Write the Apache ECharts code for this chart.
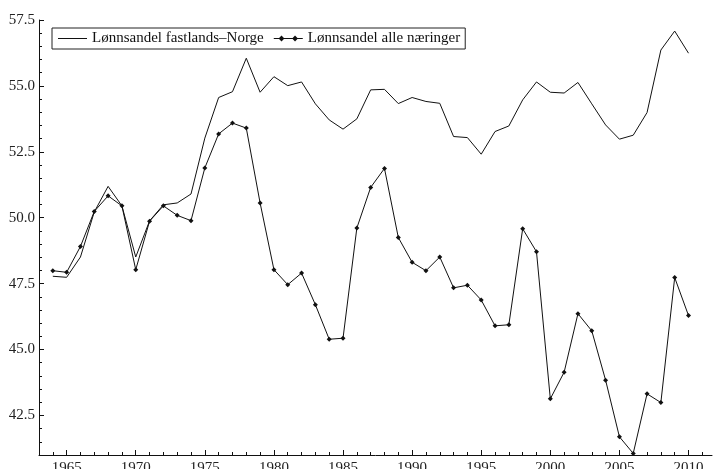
<!DOCTYPE html>
<html lang="no">
<head>
    <meta charset="UTF-8">
    <title>Lønnsandel</title>
    <script src="https://cdn.jsdelivr.net/npm/echarts@6/dist/echarts.min.js"></script>
    <style>
        html, body { margin: 0; padding: 0; background: #fff; }
        #chart { width: 713px; height: 469px; }
    </style>
</head>
<body>
    <div id="chart"></div>

    <script>
        var years = [];
        for (var y = 1964; y <= 2010; y++) years.push(y);

        var fastlandNames = 'Lønnsandel fastlands\u2013Norge';
        var alleNames = 'Lønnsandel alle næringer';

        // Lønnsandel fastlands-Norge, 1964-2010
        var fastland = [
            47.78, 47.74, 48.51, 50.22, 51.19, 50.45, 48.51, 49.88, 50.49, 50.56,
            50.90, 53.02, 54.56, 54.78, 56.05, 54.76, 55.35, 55.01, 55.15, 54.32,
            53.71, 53.36, 53.75, 54.85, 54.87, 54.33, 54.56, 54.41, 54.34, 53.08,
            53.04, 52.41, 53.27, 53.48, 54.47, 55.15, 54.76, 54.73, 55.13, 54.32,
            53.52, 52.98, 53.13, 53.99, 56.36, 57.08, 56.24
        ];

        // Lønnsandel alle næringer, 1964-2010
        var alle = [
            47.99, 47.93, 48.91, 50.24, 50.83, 50.45, 48.03, 49.87, 50.45, 50.09,
            49.89, 51.89, 53.18, 53.59, 53.40, 50.56, 48.03, 47.46, 47.90, 46.70,
            45.39, 45.43, 49.61, 51.15, 51.87, 49.25, 48.31, 47.99, 48.51, 47.34,
            47.44, 46.88, 45.90, 45.94, 49.58, 48.71, 43.13, 44.14, 46.36, 45.71,
            43.84, 41.69, 41.06, 43.32, 42.99, 47.73, 46.29
        ];

        var xLabels = [1965, 1970, 1975, 1980, 1985, 1990, 1995, 2000, 2005, 2010];
        var yLabels = [42.5, 45.0, 47.5, 50.0, 52.5, 55.0, 57.5];

        var minorX = years.concat([2011]).filter(function (v) { return v % 5 !== 0; });
        var minorY = [];
        for (var i = 83; i <= 115; i++) {
            if (i % 5 !== 0) minorY.push(i / 2);
        }

        var font = 'Liberation Serif';
        var chart = echarts.init(document.getElementById('chart'));

        chart.setOption({
            animation: false,
            grid: { left: 39, right: 1, top: 20, bottom: 14, outerBoundsMode: 'none' },
            legend: {
                left: 52,
                top: 28,
                orient: 'horizontal',
                itemWidth: 29,
                itemHeight: 6,
                itemGap: 10,
                padding: [3, 5, 3, 6],
                borderColor: '#222',
                borderWidth: 1,
                textStyle: { fontFamily: font, fontSize: 15, color: '#111' },
                data: [
                    { name: fastlandNames, icon: 'path://M0,0L0.01,0Z M0,2.5H30V3.5H0Z M0,6L0.01,6Z' },
                    { name: alleNames, icon: 'path://M0,2.5H30V3.5H0Z M8,0L11,3L8,6L5,3Z M22,0L25,3L22,6L19,3Z' }
                ]
            },
            xAxis: [{
                type: 'value',
                min: 1963,
                max: 2011.7,
                position: 'bottom',
                axisLine: { lineStyle: { color: '#111', width: 1 } },
                splitLine: { show: false },
                axisTick: { inside: true, length: 5, customValues: xLabels, lineStyle: { color: '#111' } },
                axisLabel: {
                    customValues: xLabels, margin: 6, fontFamily: font, fontSize: 15, color: '#222',
                    formatter: function (v) { return String(v); }
                }
            }, {
                type: 'value',
                min: 1963,
                max: 2011.7,
                position: 'bottom',
                axisLine: { show: false },
                splitLine: { show: false },
                axisTick: { inside: true, length: 3, customValues: minorX, lineStyle: { color: '#111' } },
                axisLabel: { show: false }
            }],
            yAxis: [{
                type: 'value',
                min: 41,
                max: 57.5,
                position: 'left',
                axisLine: { show: true, lineStyle: { color: '#111', width: 1 } },
                splitLine: { show: false },
                axisTick: { show: true, inside: true, length: 5, customValues: yLabels, lineStyle: { color: '#111' } },
                axisLabel: {
                    customValues: yLabels, margin: 4, fontFamily: font, fontSize: 15, color: '#222',
                    formatter: function (v) { return v.toFixed(1); }
                }
            }, {
                type: 'value',
                min: 41,
                max: 57.5,
                position: 'left',
                axisLine: { show: false },
                splitLine: { show: false },
                axisTick: { show: true, inside: true, length: 3, customValues: minorY, lineStyle: { color: '#111' } },
                axisLabel: { show: false }
            }],
            series: [{
                name: fastlandNames,
                type: 'line',
                symbol: 'none',
                lineStyle: { color: '#111', width: 1 },
                itemStyle: { color: '#111' },
                data: years.map(function (yr, k) { return [yr, fastland[k]]; })
            }, {
                name: alleNames,
                type: 'line',
                symbol: 'diamond',
                symbolSize: 5,
                lineStyle: { color: '#111', width: 1 },
                itemStyle: { color: '#111' },
                data: years.map(function (yr, k) { return [yr, alle[k]]; })
            }]
        });
    </script>
</body>
</html>
